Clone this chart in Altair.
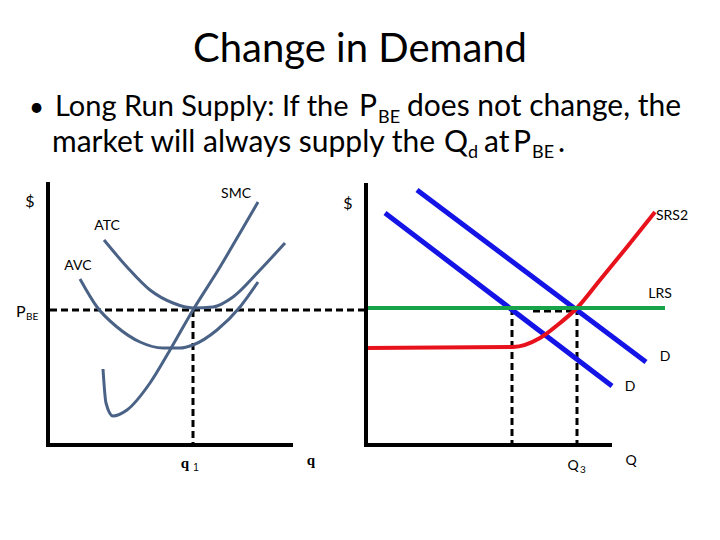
import altair as alt
import pandas as pd

# ---- curve data (slide coordinates: x to the right, y downward) ----
smc_x = [103, 106, 113, 127, 150, 170, 193, 220, 240, 258]
smc_y = [369, 403, 416, 410, 383, 350, 310, 267, 233, 202]
atc_x = [104, 127, 150, 173, 193, 213, 233, 260, 285]
atc_y = [240, 267, 290, 303, 308, 307, 297, 270, 243]
avc_x = [80, 97, 117, 140, 163, 180, 193, 217, 240, 258]
avc_y = [279, 307, 327, 342, 348, 348, 345, 330, 307, 282]
srs_x = [366, 513, 540, 560, 577, 600, 627, 655]
srs_y = [348, 347, 338, 323, 308, 280, 247, 212]
d1_x = [385, 612]
d1_y = [213, 386]
d2_x = [417, 646]
d2_y = [190, 362]
lrs_x = [366, 665]
lrs_y = [308, 308]
p_be = 310
q1 = 193
q_a = 512
q3 = 577
origin_y = 445

def curve(name, xs, ys):
    return pd.DataFrame({"curve": name, "i": range(len(xs)), "x": xs, "y": ys})

X = alt.X("x:Q", scale=alt.Scale(domain=[8, 712]), axis=None)
Y = alt.Y("y:Q", scale=alt.Scale(domain=[8, 532], reverse=True), axis=None)

def line(df, color, width, dash=None, interp="linear"):
    kw = dict(color=color, strokeWidth=width, interpolate=interp, clip=False)
    if dash:
        kw["strokeDash"] = dash
    return alt.Chart(df).mark_line(**kw).encode(x=X, y=Y, order="i:Q")

def seg(x1, y1, x2, y2):
    return pd.DataFrame({"x": [x1], "y": [y1], "x2": [x2], "y2": [y2]})

def rule(df, color, width, dash=None):
    kw = dict(color=color, strokeWidth=width)
    if dash:
        kw["strokeDash"] = dash
    return alt.Chart(df).mark_rule(**kw).encode(x=X, y=Y, x2="x2:Q", y2="y2:Q")

axes = pd.concat([
    seg(48, 182, 48, origin_y), seg(46, origin_y, 293, origin_y),
    seg(366, 183, 366, origin_y), seg(364, origin_y, 612, origin_y),
])
dashes = pd.concat([
    seg(50, p_be, 366, p_be),
    seg(q1, p_be, q1, origin_y),
    seg(q_a, lrs_y[0], q_a, origin_y),
    seg(q3, lrs_y[0], q3, origin_y),
    seg(533, p_be + 1, 573, p_be + 1),
])

slate = "#4a6285"
layers = [
    rule(dashes, "black", 3, [7, 4]),
    line(curve("AVC", avc_x, avc_y), slate, 3, interp="monotone"),
    line(curve("ATC", atc_x, atc_y), slate, 3, interp="monotone"),
    line(curve("SMC", smc_x, smc_y), slate, 3, interp="monotone"),
    line(curve("D1", d1_x, d1_y), "#1414e6", 5),
    line(curve("D2", d2_x, d2_y), "#1414e6", 5),
    line(curve("SRS2", srs_x, srs_y), "#e8121c", 4, interp="monotone"),
    line(curve("LRS", lrs_x, lrs_y), "#17a34a", 4),
    rule(axes, "black", 4),
]

# ---- text ----
font = "Lato"
def texts(rows, align, fnt=font, weight="normal"):
    df = pd.DataFrame(rows, columns=["x", "y", "t", "s"])
    return alt.Chart(df).mark_text(align=align, baseline="alphabetic", font=fnt,
                                   fontWeight=weight, color="black").encode(
        x=X, y=Y, text="t:N", size=alt.Size("s:Q", scale=None, legend=None))

center_rows = [
    (360, 62, "Change in Demand", 40),
    (30, 207, "$", 16),
    (348, 209, "$", 16),
    (236, 198, "SMC", 14),
    (107, 230, "ATC", 14),
    (78, 270, "AVC", 14),
    (672, 220, "SRS2", 14),
    (660, 298, "LRS", 14),
    (665, 361, "D", 14),
    (630, 391, "D", 14),
    (573, 470, "Q", 14),
    (631, 465, "Q", 14),
]
left_rows = [
    (29, 116, "•", 26),
    (55, 116, "Long Run Supply: If the", 29),
    (359, 116, "P", 30),
    (378, 123, "BE", 18),
    (407, 116, "does not change, the", 30),
    (52, 152, "market will always supply the", 30),
    (444, 152, "Q", 30),
    (468, 158, "d", 18),
    (484, 152, "at", 30),
    (513, 152, "P", 30),
    (532, 158, "BE", 18),
    (558, 152, ".", 30),
    (16, 317, "P", 16),
    (26, 320, "BE", 10),
    (580, 473, "3", 10),
]
serif_rows = [
    (185, 468, "q", 15),
    (311, 465, "q", 15),
]
sub_rows = [(196, 471, "1", 10)]

layers += [
    texts(center_rows, "center"),
    texts(left_rows, "left"),
    texts(serif_rows, "center", "Liberation Serif", "bold"),
    texts(sub_rows, "center", "Liberation Sans"),
]

chart = alt.layer(*layers).properties(
    width=704, height=524, padding=0, autosize="none"
).configure_view(stroke=None)

chart.save("out.html", embed_options={"renderer": "svg", "actions": False})
